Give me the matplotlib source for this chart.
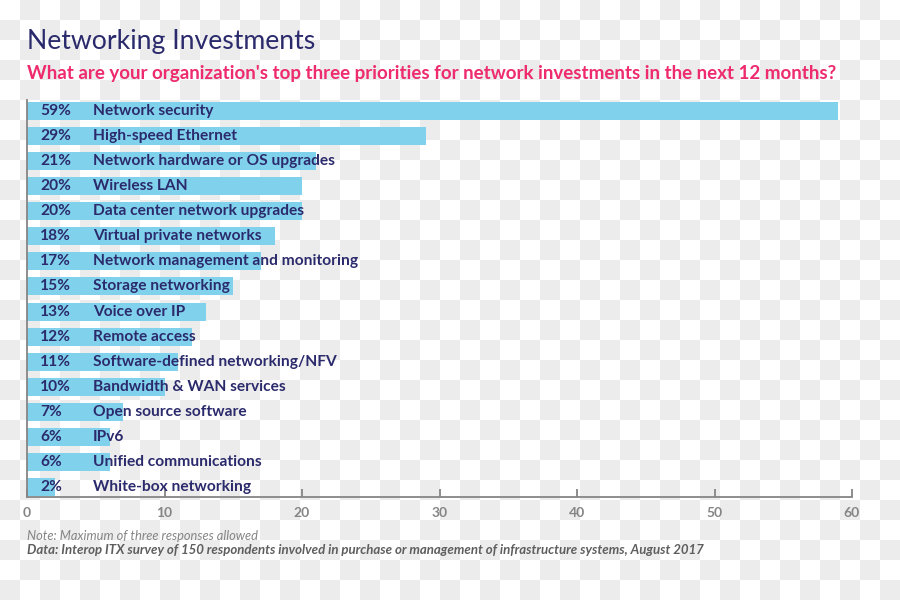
import numpy as np
import matplotlib
matplotlib.use('Agg')
import matplotlib.pyplot as plt

# data
categories = ['Network security', 'High-speed Ethernet', 'Network hardware or OS upgrades',
              'Wireless LAN', 'Data center network upgrades', 'Virtual private networks',
              'Network management and monitoring', 'Storage networking', 'Voice over IP',
              'Remote access', 'Software-defined networking/NFV', 'Bandwidth & WAN services',
              'Open source software', 'IPv6', 'Unified communications', 'White-box networking']
values = [59, 29, 21, 20, 20, 18, 17, 15, 13, 12, 11, 10, 7, 6, 6, 2]
xticks = [0, 10, 20, 30, 40, 50, 60]

TITLE = 'Networking Investments'
SUBTITLE = "What are your organization's top three priorities for network investments in the next 12 months?"
NOTE = 'Note: Maximum of three responses allowed'
SOURCE = 'Data: Interop ITX survey of 150 respondents involved in purchase or management of infrastructure systems, August 2017'

NAVY = '#2b2a6c'
PINK = '#ee2b6e'
BAR = '#80d2ec'
GREY = '#858585'

plt.rcParams['font.family'] = ['Lato', 'DejaVu Sans']

fig = plt.figure(figsize=(9, 6), dpi=100)

# checkerboard background (transparent-png look)
bg = fig.add_axes([0, 0, 1, 1], zorder=-10)
ii, jj = np.meshgrid(np.arange(45), np.arange(30))
checker = np.where((ii + jj) % 2 == 1, 0.925, 1.0)
bg.imshow(checker, cmap='gray', vmin=0, vmax=1, extent=(0, 900, 600, 0), interpolation='nearest')
bg.set_xlim(0, 900)
bg.set_ylim(600, 0)
bg.axis('off')

ax = fig.add_axes([27 / 900, 1 - 497 / 600, 825 / 900, 397 / 600])
ax.patch.set_alpha(0)
y = np.arange(len(categories))
ax.barh(y, values, height=0.72, color=BAR, zorder=1)

for yi, v, c in zip(y, values, categories):
    ax.text(0.0158, yi, f'{v}%', transform=ax.get_yaxis_transform(), va='center', ha='left',
            fontsize=11.2, fontweight='bold', color=NAVY, zorder=3)
    ax.text(0.08, yi, c, transform=ax.get_yaxis_transform(), va='center', ha='left',
            fontsize=11.2, fontweight='bold', color=NAVY, zorder=3)

ax.set_xlim(0, 60)
ax.set_ylim(len(categories) - 1 + 0.4, -0.44)
ax.set_xticks(xticks)
ax.set_yticks([])
ax.tick_params(axis='x', direction='in', length=6, width=1.3, color=GREY, labelcolor=GREY,
               labelsize=10, pad=7)
for lbl in ax.get_xticklabels():
    lbl.set_fontweight('bold')
for s in ['top', 'right']:
    ax.spines[s].set_visible(False)
for s in ['left', 'bottom']:
    ax.spines[s].set_color(GREY)
    ax.spines[s].set_linewidth(1.3)

fig.text(27 / 900, 1 - 41 / 600, TITLE, fontsize=19.2, fontweight='normal', color=NAVY, va='center')
fig.text(27 / 900, 1 - 73 / 600, SUBTITLE, fontsize=13.5, fontweight='bold', color=PINK, va='center')
fig.text(27 / 900, 1 - 536 / 600, NOTE, fontsize=9.3, style='italic', color=GREY, va='center')
fig.text(27 / 900, 1 - 550 / 600, SOURCE, fontsize=9.5, style='italic', fontweight='bold',
         color='#5e5e5e', va='center')

fig.savefig('out.png', dpi=100)
